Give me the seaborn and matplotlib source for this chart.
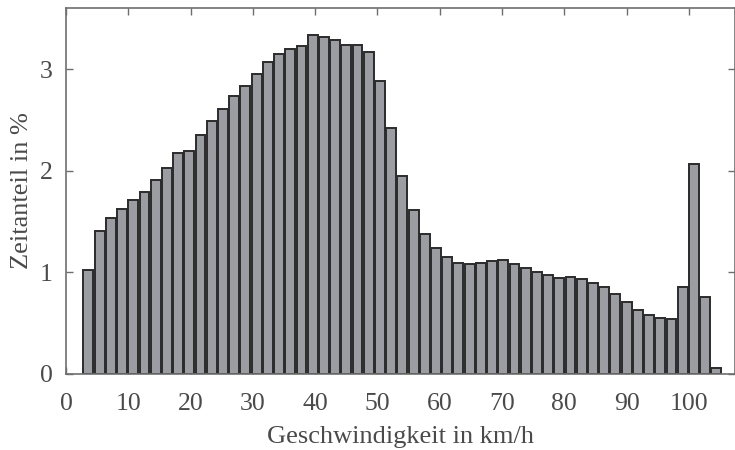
import numpy as np
import pandas as pd
import matplotlib
matplotlib.use("Agg")
import matplotlib.pyplot as plt
import seaborn as sns

# Speed classes: 0.5 m/s bins (1.8 km/h), class centres in km/h
speed_kmh = [round(3.6 + 1.8 * i, 1) for i in range(57)]

# Share of driving time per speed class in %
share_pct = [
    1.02, 1.41, 1.53, 1.62, 1.71, 1.79, 1.91, 2.03, 2.17, 2.19,
    2.35, 2.49, 2.61, 2.73, 2.83, 2.95, 3.07, 3.15, 3.20, 3.23,
    3.33, 3.31, 3.29, 3.24, 3.24, 3.17, 2.88, 2.42, 1.95, 1.61,
    1.375, 1.24, 1.15, 1.09, 1.08, 1.095, 1.11, 1.12, 1.08, 1.04,
    1.00, 0.97, 0.945, 0.95, 0.93, 0.90, 0.86, 0.79, 0.705, 0.63,
    0.58, 0.55, 0.54, 0.855, 2.07, 0.755, 0.056,
]

x_ticks = [0, 10, 20, 30, 40, 50, 60, 70, 80, 90, 100]
y_ticks = [0, 1, 2, 3]

df = pd.DataFrame({"speed": speed_kmh, "share": share_pct})

sns.set_style("white")
plt.rcParams["font.family"] = ["Liberation Serif", "DejaVu Serif"]

text_col = "#4a4a4a"
spine_col = "#6e6e6e"

fig = plt.figure(figsize=(7.35, 4.5), dpi=100)
ax = fig.add_axes([66 / 735, 76 / 450, 669 / 735, 366 / 450])

sns.barplot(
    data=df, x="speed", y="share", native_scale=True, width=0.88,
    color="#9b9da2", saturation=1, edgecolor="#2b2b2b", linewidth=1.4, ax=ax,
)

ax.set_xlim(0, 107.4)
ax.set_ylim(0, 3.6)
ax.set_xticks(x_ticks)
ax.set_yticks(y_ticks)
ax.tick_params(axis="both", which="both", direction="in", length=5, width=1,
               color=spine_col, labelsize=18.5, labelcolor=text_col,
               top=True, right=True, bottom=True, left=True)
ax.tick_params(axis="x", pad=13.5)
ax.tick_params(axis="y", pad=9.5)
for s in ax.spines.values():
    s.set_visible(True)
    s.set_color(spine_col)
    s.set_linewidth(1.2)

ax.set_xlabel("Geschwindigkeit in km/h", fontsize=19, color=text_col, labelpad=8)
ax.set_ylabel("Zeitanteil in %", fontsize=19, color=text_col, labelpad=5)

fig.savefig("out.png", dpi=100)
